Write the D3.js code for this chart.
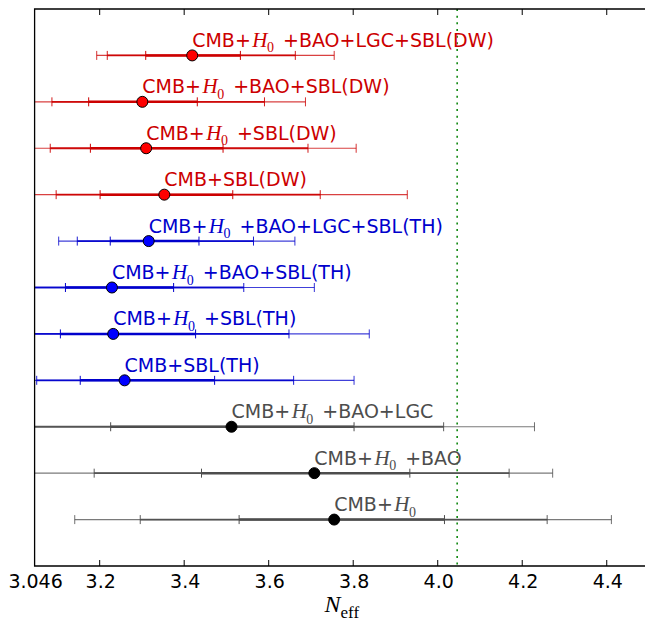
<!DOCTYPE html>
<html>
<head>
<meta charset="utf-8">
<script src="https://cdn.jsdelivr.net/npm/d3@7"></script>
<style>
  body { margin: 0; background: #fff; }
  svg { display: block; }
  .tick-label { font-family: "DejaVu Sans", sans-serif; font-size: 19px; fill: #000; }
  .row-label { font-family: "DejaVu Sans", sans-serif; font-size: 19px; }
  .math { font-family: "Liberation Serif", "DejaVu Serif", serif; }
</style>
</head>
<body>
<svg id="chart"></svg>
<script>
// rows from top to bottom
var labels = [
  "CMB+H0+BAO+LGC+SBL(DW)", "CMB+H0+BAO+SBL(DW)", "CMB+H0+SBL(DW)", "CMB+SBL(DW)",
  "CMB+H0+BAO+LGC+SBL(TH)", "CMB+H0+BAO+SBL(TH)", "CMB+H0+SBL(TH)", "CMB+SBL(TH)",
  "CMB+H0+BAO+LGC", "CMB+H0+BAO", "CMB+H0"
];
var groups = ["DW", "DW", "DW", "DW", "TH", "TH", "TH", "TH", "base", "base", "base"];
var centers = [3.419, 3.301, 3.310, 3.353, 3.316, 3.229, 3.232, 3.259, 3.512, 3.708, 3.755];
var lo68 = [3.309, 3.174, 3.178, 3.201, 3.225, 3.119, 3.107, 3.154, 3.226, 3.441, 3.530];
var hi68 = [3.533, 3.431, 3.492, 3.515, 3.435, 3.375, 3.427, 3.472, 3.802, 3.934, 4.016];
var lo95 = [3.218, 3.087, 3.083, 3.097, 3.147, 3.020, 3.020, 3.051, 3.020, 3.187, 3.296];
var hi95 = [3.663, 3.590, 3.693, 3.722, 3.564, 3.541, 3.648, 3.659, 4.014, 4.169, 4.259];
var lo99 = [3.193, 3.000, 3.000, 3.000, 3.103, 2.980, 2.980, 3.000, 2.980, 3.000, 3.141];
var hi99 = [3.755, 3.687, 3.807, 3.928, 3.662, 3.708, 3.838, 3.802, 4.229, 4.272, 4.411];
var xTicks = [3.046, 3.2, 3.4, 3.6, 3.8, 4.0, 4.2, 4.4];
var refValue = 4.046;

var groupLine = { DW: "#cc0000", TH: "#0000cc", base: "#4d4d4d" };
var groupFill = { DW: "#ff0000", TH: "#0000ff", base: "#000000" };

var svgWidth = 645, svgHeight = 620;
var plotLeft = 34.6, plotRight = 649, plotTop = 9, plotBottom = 566;

var x = d3.scaleLinear().domain([3.046, 4.5]).range([plotLeft, plotRight]);
var y = d3.scaleLinear().domain([0, 12]).range([plotBottom, plotTop]);

var svg = d3.select("#chart")
  .attr("width", svgWidth)
  .attr("height", svgHeight);

svg.append("defs").append("clipPath")
  .attr("id", "plotClip")
  .append("rect")
  .attr("x", plotLeft).attr("y", plotTop)
  .attr("width", plotRight - plotLeft).attr("height", plotBottom - plotTop);

var plot = svg.append("g").attr("clip-path", "url(#plotClip)");

// reference line
plot.append("line")
  .attr("x1", x(refValue)).attr("x2", x(refValue))
  .attr("y1", plotTop).attr("y2", plotBottom)
  .attr("stroke", "#008000")
  .attr("stroke-width", 1.5)
  .attr("stroke-dasharray", "2,4.67");

var rows = labels.map(function (d, i) {
  return {
    label: d, group: groups[i], c: centers[i], yv: labels.length - i,
    levels: [
      { lo: lo99[i], hi: hi99[i], w: 1.2, op: 0.75 },
      { lo: lo95[i], hi: hi95[i], w: 1.8, op: 0.9 },
      { lo: lo68[i], hi: hi68[i], w: 2.5, op: 1 }
    ]
  };
});

var row = plot.selectAll(".row")
  .data(rows)
  .enter()
  .append("g")
  .classed("row", true)
  .attr("transform", function (d) { return "translate(" + [0, y(d.yv)] + ")"; });

row.each(function (d) {
  var g = d3.select(this);
  var col = groupLine[d.group];
  d.levels.forEach(function (l) {
    g.append("line")
      .attr("x1", x(l.lo)).attr("x2", x(l.hi))
      .attr("stroke", col).attr("stroke-width", l.w).attr("stroke-opacity", l.op);
    [l.lo, l.hi].forEach(function (v) {
      g.append("line")
        .attr("x1", x(v)).attr("x2", x(v))
        .attr("y1", -4.5).attr("y2", 4.5)
        .attr("stroke", col).attr("stroke-width", 1).attr("stroke-opacity", Math.max(l.op, 0.8));
    });
  });
  g.append("circle")
    .attr("cx", x(d.c)).attr("r", 5.5)
    .attr("fill", groupFill[d.group])
    .attr("stroke", "#000").attr("stroke-width", 1);
});

// labels
var labelText = svg.selectAll(".row-label")
  .data(rows)
  .enter()
  .append("text")
  .classed("row-label", true)
  .attr("x", function (d) { return x(d.c); })
  .attr("y", function (d) { return y(d.yv) - 8.5; })
  .attr("fill", function (d) { return groupLine[d.group]; });

labelText.each(function (d) {
  var t = d3.select(this);
  var parts = d.label.split("H0");
  t.append("tspan").text(parts[0]);
  if (parts.length > 1) {
    t.append("tspan").classed("math", true)
      .attr("dx", 1.5).style("font-style", "italic").style("font-size", "21px").text("H");
    t.append("tspan").classed("math", true)
      .attr("dx", -0.5).attr("dy", 5.5).style("font-size", "14px").text("0");
    t.append("tspan").attr("dx", 9).attr("dy", -5.5).text(parts[1]);
  }
});

// axes frame
var frame = svg.append("g")
  .attr("stroke", "#000").attr("stroke-width", 1.3).attr("fill", "none");
frame.append("path")
  .attr("d", "M" + [plotRight, plotTop] + "L" + [plotLeft, plotTop] + "L" + [plotLeft, plotBottom] + "L" + [plotRight, plotBottom] + "Z");

// ticks, inward top and bottom
var tickG = svg.append("g").attr("stroke", "#000").attr("stroke-width", 1);
xTicks.slice(1).forEach(function (v) {
  tickG.append("line").attr("x1", x(v)).attr("x2", x(v)).attr("y1", plotBottom).attr("y2", plotBottom - 6);
  tickG.append("line").attr("x1", x(v)).attr("x2", x(v)).attr("y1", plotTop).attr("y2", plotTop + 6);
});

svg.selectAll(".tick-label")
  .data(xTicks)
  .enter()
  .append("text")
  .classed("tick-label", true)
  .attr("x", function (d) { return x(d) + 1; })
  .attr("y", 588)
  .attr("text-anchor", "middle")
  .text(function (d) { return d === 3.046 ? "3.046" : d.toFixed(1); });

// axis title N_eff
var xt = svg.append("text")
  .attr("x", (plotLeft + plotRight) / 2)
  .attr("y", 611.5)
  .attr("text-anchor", "middle")
  .classed("math", true);
xt.append("tspan").style("font-style", "italic").style("font-size", "24px").text("N");
xt.append("tspan").attr("dy", 6).style("font-size", "17px").text("eff");
</script>
</body>
</html>
